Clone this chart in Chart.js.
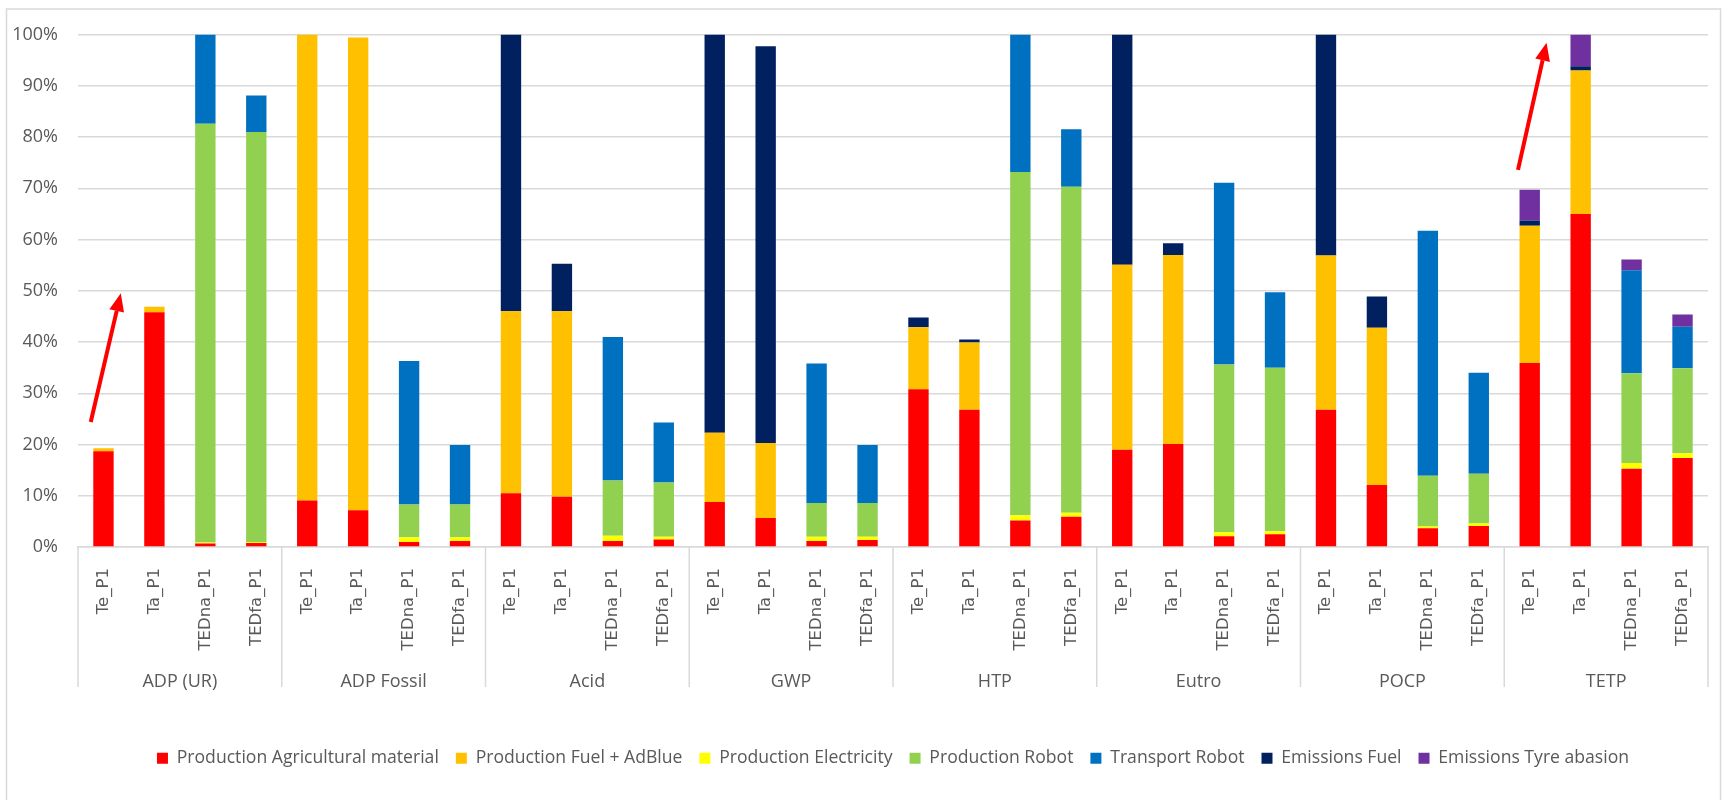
<!DOCTYPE html>
<html>
<head>
<meta charset="utf-8">
<script src="https://cdn.jsdelivr.net/npm/chart.js@4.4.0/dist/chart.umd.min.js"></script>
<style>
    body { margin: 0; background: #fff; }
    canvas { display: block; }
</style>
</head>
<body>
<canvas id="grafico" width="1727" height="800"></canvas>
<script>
const groups = ['ADP (UR)', 'ADP Fossil', 'Acid', 'GWP', 'HTP', 'Eutro', 'POCP', 'TETP'];
const scenarios = ['Te_P1', 'Ta_P1', 'TEDna_P1', 'TEDfa_P1'];
const labels = groups.flatMap(() => scenarios);

// shares in %, 4 scenarios per impact category
const agriMaterial = [18.7, 45.8, 0.7, 0.8,  9.1, 7.2, 1.0, 1.2,  10.5, 9.8, 1.2, 1.5,  8.8, 5.7, 1.2, 1.4,
                      30.8, 26.8, 5.2, 5.9,  19.0, 20.1, 2.1, 2.5,  26.8, 12.1, 3.7, 4.1,  35.9, 65.0, 15.3, 17.4];
const fuelAdBlue   = [0.6, 1.1, 0, 0,  90.9, 92.2, 0, 0,  35.5, 36.2, 0, 0,  13.5, 14.6, 0, 0,
                      12.1, 13.1, 0, 0,  36.1, 36.9, 0, 0,  30.1, 30.7, 0, 0,  26.8, 28.0, 0, 0];
const electricity  = [0, 0, 0.2, 0.2,  0, 0, 0.9, 0.7,  0, 0, 1.0, 0.5,  0, 0, 0.8, 0.6,
                      0, 0, 1.0, 0.8,  0, 0, 0.8, 0.6,  0, 0, 0.3, 0.5,  0, 0, 1.1, 0.9];
const robotProd    = [0, 0, 81.7, 80.0,  0, 0, 6.4, 6.4,  0, 0, 10.8, 10.6,  0, 0, 6.6, 6.6,
                      0, 0, 67.0, 63.6,  0, 0, 32.7, 31.9,  0, 0, 9.9, 9.7,  0, 0, 17.5, 16.6];
const robotTransport = [0, 0, 17.4, 7.1,  0, 0, 28.0, 11.6,  0, 0, 28.0, 11.7,  0, 0, 27.2, 11.3,
                        0, 0, 26.8, 11.2,  0, 0, 35.5, 14.7,  0, 0, 47.8, 19.7,  0, 0, 20.1, 8.1];
const fuelEmissions = [0, 0, 0, 0,  0, 0, 0, 0,  54.0, 9.3, 0, 0,  77.7, 77.4, 0, 0,
                       1.9, 0.6, 0, 0,  44.9, 2.3, 0, 0,  43.1, 6.1, 0, 0,  1.0, 0.8, 0, 0];
const tyreEmissions = [0, 0, 0, 0,  0, 0, 0, 0,  0, 0, 0, 0,  0, 0, 0, 0,
                       0, 0, 0, 0,  0, 0, 0, 0,  0, 0, 0, 0,  6.0, 6.2, 2.1, 2.4];

// red arrows drawn on the slide, in (category index, %) coordinates
const arrows = [
    { from: [-0.25, 24.4], to: [0.34, 49.5] },
    { from: [27.77, 73.6], to: [28.33, 98.4] }
];

const gray = '#595959';
const lineGray = '#d9d9d9';

const frame = {
    id: 'frame',
    beforeDraw(chart) {
        const ctx = chart.ctx;
        ctx.save();
        ctx.fillStyle = '#fff';
        ctx.fillRect(0, 0, chart.width, chart.height);
        ctx.strokeStyle = lineGray;
        ctx.lineWidth = 1.5;
        ctx.strokeRect(6.5, 9, 1714, 820);
        ctx.restore();
    }
};

const groupLines = {
    id: 'groupLines',
    afterDraw(chart) {
        const x = chart.scales.x;
        const ctx = chart.ctx;
        ctx.save();
        ctx.strokeStyle = lineGray;
        ctx.lineWidth = 1.5;
        for (let g = 0; g <= groups.length; g++) {
            let px;
            if (g === 0) px = x.left;
            else if (g === groups.length) px = x.right;
            else px = (x.getPixelForValue(g * 4 - 1) + x.getPixelForValue(g * 4)) / 2;
            ctx.beginPath();
            ctx.moveTo(px, x.top);
            ctx.lineTo(px, x.top + 140);
            ctx.stroke();
        }
        ctx.restore();
    }
};

const arrowPlugin = {
    id: 'arrows',
    afterDatasetsDraw(chart) {
        const x = chart.scales.x;
        const y = chart.scales.y;
        const ctx = chart.ctx;
        ctx.save();
        ctx.strokeStyle = '#ff0000';
        ctx.fillStyle = '#ff0000';
        ctx.lineWidth = 4;
        arrows.forEach(a => {
            const x0 = x.getPixelForValue(a.from[0]), y0 = y.getPixelForValue(a.from[1]);
            const x1 = x.getPixelForValue(a.to[0]), y1 = y.getPixelForValue(a.to[1]);
            const ang = Math.atan2(y1 - y0, x1 - x0);
            const head = 18, half = 7.5;
            const bx = x1 - head * Math.cos(ang), by = y1 - head * Math.sin(ang);
            ctx.beginPath();
            ctx.moveTo(x0, y0);
            ctx.lineTo(bx, by);
            ctx.stroke();
            ctx.beginPath();
            ctx.moveTo(x1, y1);
            ctx.lineTo(bx + half * Math.sin(ang), by - half * Math.cos(ang));
            ctx.lineTo(bx - half * Math.sin(ang), by + half * Math.cos(ang));
            ctx.closePath();
            ctx.fill();
        });
        ctx.restore();
    }
};

function serie(label, data, color) {
    return {
        label: label,
        data: data,
        backgroundColor: color,
        borderWidth: 0,
        barPercentage: 0.4,
        categoryPercentage: 1
    };
}

new Chart(document.getElementById('grafico').getContext('2d'), {
    type: 'bar',
    data: {
        labels: labels,
        datasets: [
            serie('Production Agricultural material', agriMaterial, '#ff0000'),
            serie('Production Fuel + AdBlue', fuelAdBlue, '#ffc000'),
            serie('Production Electricity', electricity, '#ffff00'),
            serie('Production Robot', robotProd, '#92d050'),
            serie('Transport Robot', robotTransport, '#0070c0'),
            serie('Emissions Fuel', fuelEmissions, '#002060'),
            serie('Emissions Tyre abasion', tyreEmissions, '#7030a0')
        ]
    },
    options: {
        responsive: false,
        animation: false,
        layout: { padding: { top: 34.5, left: 0, right: 19, bottom: 23 } },
        plugins: {
            tooltip: { enabled: false },
            legend: {
                position: 'bottom',
                fullSize: false,
                labels: {
                    boxWidth: 11,
                    boxHeight: 11,
                    padding: 17,
                    color: gray,
                    font: { family: 'Open Sans', size: 17.6 }
                }
            }
        },
        scales: {
            x: {
                stacked: true,
                grid: { display: false },
                border: { display: true, color: lineGray, width: 1.5 },
                ticks: {
                    autoSkip: false,
                    minRotation: 90,
                    maxRotation: 90,
                    padding: 13,
                    color: gray,
                    font: { family: 'DejaVu Sans', size: 16.5 }
                },
                afterFit: s => { s.height = 106; }
            },
            x2: {
                type: 'category',
                position: 'bottom',
                labels: groups,
                offset: true,
                grid: { display: false },
                border: { display: false },
                ticks: {
                    padding: 10,
                    color: gray,
                    font: { family: 'Open Sans', size: 18 }
                },
                afterFit: s => { s.height = 79.3; }
            },
            y: {
                stacked: true,
                min: 0,
                max: 100,
                grid: { color: lineGray, lineWidth: 1.5, drawTicks: false },
                border: { display: false },
                ticks: {
                    stepSize: 10,
                    padding: 20,
                    color: gray,
                    font: { family: 'Open Sans', size: 18 },
                    callback: v => v + '%'
                },
                afterFit: s => { s.width = 78; }
            }
        }
    },
    plugins: [frame, groupLines, arrowPlugin]
});
</script>
</body>
</html>
